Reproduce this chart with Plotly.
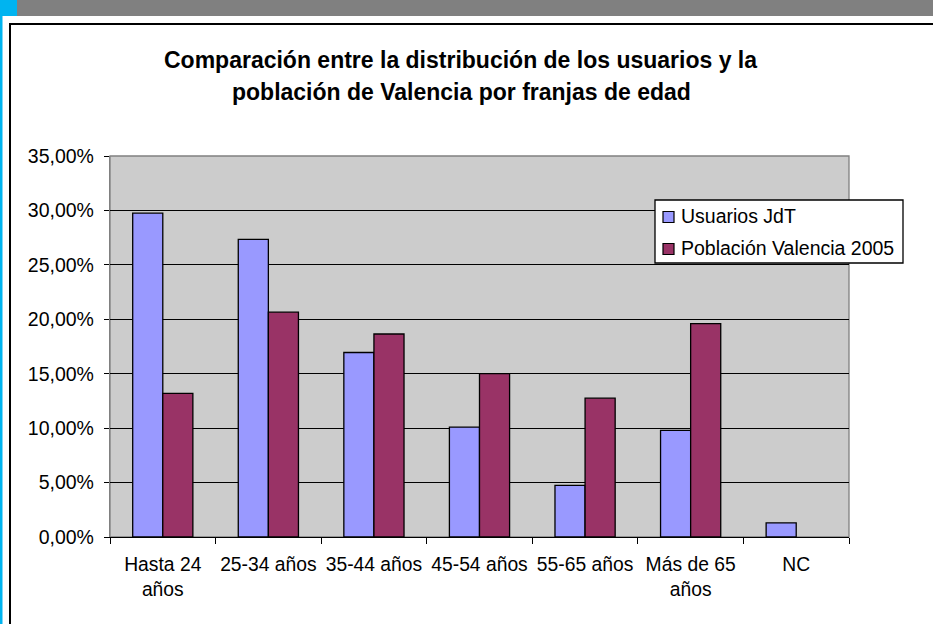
import plotly.graph_objects as go

categories = ["Hasta 24<br>años", "25-34 años", "35-44 años", "45-54 años",
              "55-65 años", "Más de 65<br>años", "NC"]
usuarios_jdt = [29.75, 27.35, 16.95, 10.1, 4.75, 9.8, 1.3]
poblacion_valencia = [13.2, 20.65, 18.65, 15.0, 12.75, 19.6, None]
series_names = ["Usuarios JdT", "Población Valencia 2005"]
series_colors = ["#9999FF", "#993366"]
y_tickvals = [0, 5, 10, 15, 20, 25, 30, 35]
y_ticktext = ["0,00%", "5,00%", "10,00%", "15,00%", "20,00%", "25,00%", "30,00%", "35,00%"]
title_lines = ["Comparación entre la distribución de los usuarios y la",
               "población de Valencia por franjas de edad"]

W, H = 933, 624
L, R, T, B = 110, 849, 156, 537

def px(x):
    return (x - L) / (R - L)

def py(y):
    return (B - y) / (B - T)

FONT = "Liberation Sans, Arial, sans-serif"
FS = 19.5

fig = go.Figure()
for name, vals, col in zip(series_names, [usuarios_jdt, poblacion_valencia], series_colors):
    fig.add_trace(go.Bar(x=categories, y=vals, name=name, showlegend=False,
                         marker=dict(color=col, line=dict(color="black", width=1.3))))

shapes = [
    dict(type="rect", xref="paper", yref="paper", x0=px(17), x1=px(940), y0=py(-5), y1=py(16),
         fillcolor="#808080", line=dict(width=0), layer="below"),
    dict(type="rect", xref="paper", yref="paper", x0=px(-5), x1=px(17), y0=py(-5), y1=py(16),
         fillcolor="#00B4F0", line=dict(width=0), layer="below"),
    dict(type="rect", xref="paper", yref="paper", x0=px(-5), x1=px(2.5), y0=py(16), y1=py(630),
         fillcolor="#00B4F0", line=dict(width=0), layer="below"),
    dict(type="rect", xref="paper", yref="paper", x0=px(10), x1=px(945), y0=py(24), y1=py(640),
         fillcolor="rgba(0,0,0,0)", line=dict(color="black", width=2), layer="below"),
    dict(type="rect", xref="paper", yref="paper", x0=0, x1=1, y0=0, y1=1,
         line=dict(color="#808080", width=1.3), fillcolor="rgba(0,0,0,0)", layer="below"),
    # legend box
    dict(type="rect", xref="paper", yref="paper", x0=px(655), x1=px(903), y0=py(200), y1=py(263),
         fillcolor="white", line=dict(color="black", width=1.3), layer="above"),
]

annotations = [
    dict(text="<b>%s</b>" % title_lines[0], xref="paper", yref="paper",
         x=px(460), y=py(60), xanchor="center", yanchor="middle", showarrow=False,
         font=dict(family=FONT, size=23, color="black")),
    dict(text="<b>%s</b>" % title_lines[1], xref="paper", yref="paper",
         x=px(461), y=py(92), xanchor="center", yanchor="middle", showarrow=False,
         font=dict(family=FONT, size=23, color="black")),
]

legend_rows = [216, 248]
for name, col, cy in zip(series_names, series_colors, legend_rows):
    shapes.append(dict(type="rect", xref="paper", yref="paper",
                       x0=px(663), x1=px(674), y0=py(cy - 4.5), y1=py(cy + 6.5),
                       fillcolor=col, line=dict(color="black", width=1.2), layer="above"))
    annotations.append(dict(text=name, xref="paper", yref="paper",
                            x=px(679), y=py(cy), xanchor="left", yanchor="middle",
                            showarrow=False, font=dict(family=FONT, size=FS, color="black")))

fig.update_layout(
    width=W, height=H,
    margin=dict(l=L, r=W - R, t=T, b=H - B, pad=0, autoexpand=False),
    paper_bgcolor="white",
    plot_bgcolor="#CCCCCC",
    barmode="group",
    bargap=0.43,
    bargroupgap=0,
    font=dict(family=FONT, size=FS, color="black"),
    shapes=shapes,
    annotations=annotations,
    showlegend=False,
)

fig.update_xaxes(
    type="category",
    showline=True, linecolor="black", linewidth=1.3,
    ticks="outside", tickson="boundaries", ticklen=6, tickcolor="black", tickwidth=1.3,
    showgrid=False, mirror=False, ticklabelstandoff=10, tickangle=0, automargin=False,
    tickfont=dict(family=FONT, size=19.3, color="black"),
)
fig.update_yaxes(
    range=[0, 35],
    tickvals=y_tickvals, ticktext=y_ticktext,
    showline=True, linecolor="#808080", linewidth=1.3,
    ticks="outside", ticklen=5, tickcolor="black", tickwidth=1.3,
    showgrid=True, gridcolor="black", gridwidth=1,
    zeroline=False, ticklabelstandoff=6, automargin=False,
    tickfont=dict(family=FONT, size=FS, color="black"),
)

fig.write_html("out.html", config={"displayModeBar": False},
               post_script="document.body.style.margin='0';")
